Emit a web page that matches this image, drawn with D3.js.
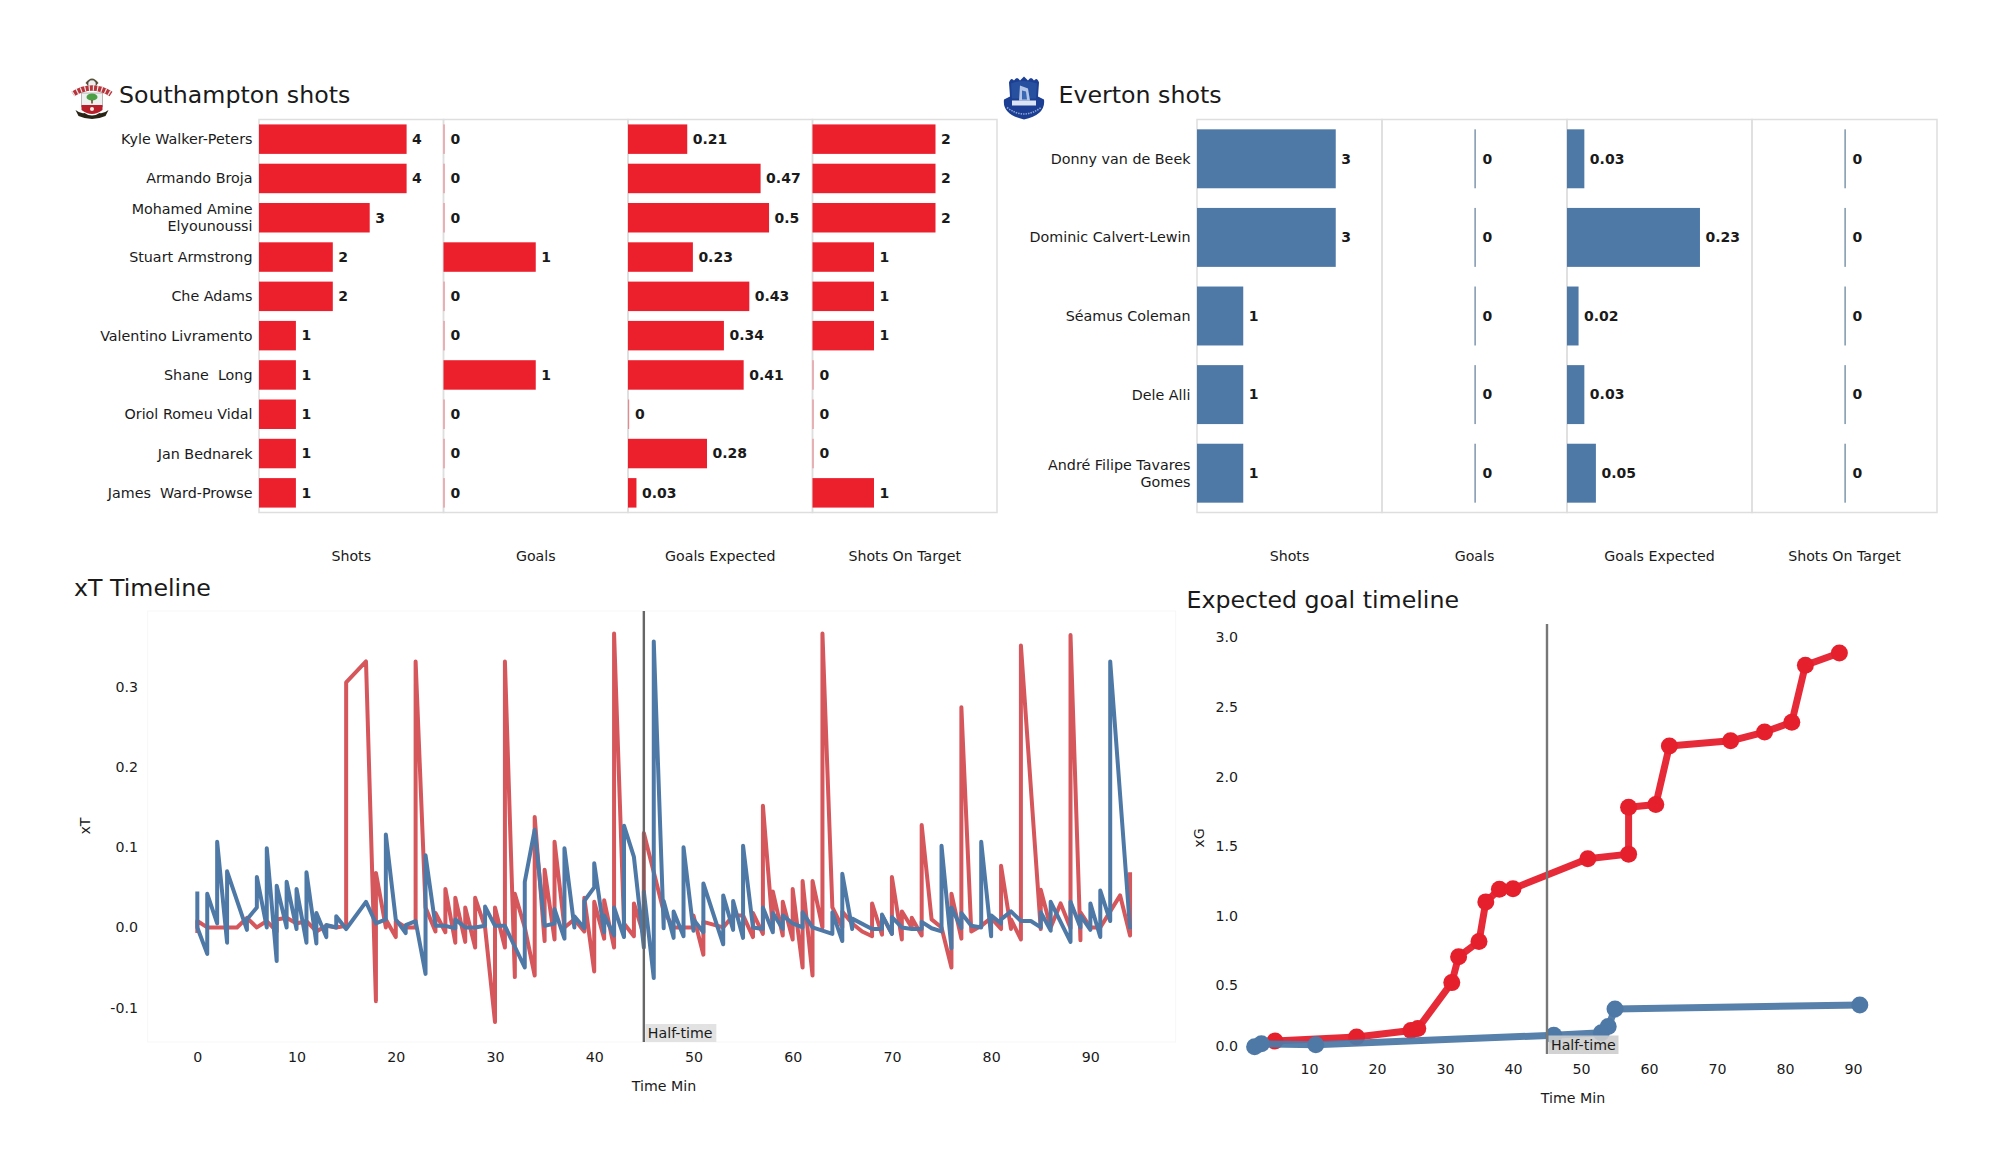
<!DOCTYPE html>
<html>
<head>
<meta charset="utf-8">
<script src="https://cdn.jsdelivr.net/npm/d3@7"></script>
<style>
  html, body { margin: 0; background: #fff; }
  text { font-family: "DejaVu Sans", sans-serif; fill: #1a1a1a; white-space: pre; }
</style>
</head>
<body>
<svg id="chart" width="2000" height="1175"></svg>
<script>
var statNames = ["Shots", "Goals", "Goals Expected", "Shots On Target"];

var sotonPlayers = ["Kyle Walker-Peters", "Armando Broja", "Mohamed Amine Elyounoussi", "Stuart Armstrong", "Che Adams",
    "Valentino Livramento", "Shane  Long", "Oriol Romeu Vidal", "Jan Bednarek", "James  Ward-Prowse"];
var sotonShots = [4, 4, 3, 2, 2, 1, 1, 1, 1, 1];
var sotonGoals = [0, 0, 0, 1, 0, 0, 1, 0, 0, 0];
var sotonXg = [0.21, 0.47, 0.5, 0.23, 0.43, 0.34, 0.41, 0, 0.28, 0.03];
var sotonOnTarget = [2, 2, 2, 1, 1, 1, 0, 0, 0, 1];
var sotonMax = [5, 2, 0.654, 3];

var evertonPlayers = ["Donny van de Beek", "Dominic Calvert-Lewin", "Séamus Coleman", "Dele Alli", "André Filipe Tavares Gomes"];
var evertonShots = [3, 3, 1, 1, 1];
var evertonGoals = [0, 0, 0, 0, 0];
var evertonXg = [0.03, 0.23, 0.02, 0.03, 0.05];
var evertonOnTarget = [0, 0, 0, 0, 0];

// xT per event, several events can share a minute
var xtSotonMin = [0, 0, 1, 2, 3, 4, 5, 6, 7, 8,
    8, 9, 10, 11, 12, 13, 14, 15, 15, 17,
    18, 18, 19, 19, 20, 20, 21, 22, 22, 23,
    24, 24, 25, 25, 26, 26, 27, 27, 28, 28,
    29, 30, 30, 31, 31, 32, 32, 33, 34, 34,
    35, 35, 36, 36, 37, 38, 39, 39, 40, 40,
    41, 41, 42, 42, 43, 44, 44, 45, 45, 47,
    48, 49, 50, 50, 51, 51, 53, 54, 55, 56,
    56, 57, 57, 58, 58, 59, 59, 60, 60, 61,
    61, 62, 62, 63, 63, 64, 65, 65, 66, 67,
    68, 68, 69, 69, 70, 70, 71, 71, 72, 72,
    73, 73, 74, 75, 76, 76, 77, 77, 78, 79,
    80, 81, 81, 82, 82, 83, 83, 85, 85, 86,
    87, 88, 88, 89, 89, 90, 91, 92, 93, 94,
    94];
var xtSotonVal = [-0.007, 0.008, 0, 0, 0, 0, 0.012, 0, 0.008, -0.005,
    0.01, 0.012, 0.005, 0.008, -0.005, 0.002, 0, 0.002, 0.306, 0.332,
    -0.092, 0.068, 0, 0.01, -0.012, 0.008, 0, 0, 0.332, 0.025,
    -0.005, 0.018, -0.006, 0.048, -0.019, 0.037, -0.018, 0.025, -0.025, 0.037,
    0, -0.118, 0.025, -0.025, 0.332, -0.062, 0.042, 0, -0.06, 0.138,
    -0.017, 0.072, -0.015, 0.107, 0, 0.01, -0.005, 0.037, -0.055, 0.032,
    -0.014, 0.034, -0.025, 0.367, 0.005, -0.011, 0.03, -0.01, 0.118, 0.02,
    0, 0, 0, 0.015, -0.034, 0.007, 0, 0.015, 0.015, -0.012,
    0.018, -0.008, 0.152, -0.002, 0.045, -0.01, 0.032, -0.015, 0.048, -0.05,
    0.058, -0.06, 0.058, 0, 0.367, 0.025, 0, 0.02, 0.005, -0.005,
    -0.011, 0.03, -0.009, 0.015, -0.008, 0.063, -0.015, 0.02, 0, 0.012,
    -0.01, 0.128, 0.01, 0, -0.05, 0.042, -0.014, 0.275, -0.005, 0.002,
    0.012, -0.002, 0.077, -0.002, 0.01, -0.015, 0.352, -0.002, 0.047, 0,
    0.03, -0.001, 0.365, -0.016, 0.019, 0, 0, 0.02, 0.04, -0.01,
    0.069];

var xtEvertonMin = [0, 0, 1, 1, 2, 2, 3, 3, 5, 5, 6, 6, 7, 7, 8, 8, 9, 9, 10, 10, 11, 11, 12, 12, 13, 13, 14, 14, 15, 17, 18, 19, 19, 20, 21, 21, 22, 23, 23,
    24, 25, 26, 26, 27, 28, 29, 29, 30, 31, 33, 33, 34, 35, 36, 36, 37, 37, 38, 38, 39, 39, 40, 40, 41, 41, 42, 42, 43, 43, 44, 45, 45, 46, 46,
    47, 47, 48, 48, 49, 49, 50, 50, 51, 51, 53, 53, 54, 54, 55, 55, 56, 57, 57, 58, 58, 59, 59, 60, 61, 61, 62, 64, 64, 65, 65, 66, 66, 68,
    69, 69, 70, 70, 71, 72, 73, 73, 74, 75, 75, 76, 76, 77, 77, 78, 79, 79, 80, 80, 81, 81, 82, 83, 84, 85, 85, 86, 86, 88, 88, 89, 89, 90, 90, 91, 91, 92, 92, 94];
var xtEvertonVal = [0.045, 0, -0.033, 0.042, 0.005, 0.107, -0.019, 0.07, -0.003, 0.01, 0.025, 0.063, 0, 0.099, -0.042, 0.052, 0, 0.057, -0.002, 0.048, -0.019, 0.069, -0.02, 0.018, -0.012, 0.003, 0, 0.014, -0.002, 0.032, 0.005, 0.01, 0.116, 0.01, -0.007, 0.003, 0.008, -0.058, 0.09,
    0.002, 0.002, -0.001, 0.01, 0, 0, 0.002, 0.026, 0.002, 0.002, -0.05, 0.057, 0.122, 0.002, 0.005, 0.023, -0.014, 0.099, 0, 0.014, -0.001, 0.033, 0.05, 0.08, -0.006, 0.015, -0.01, 0.025, -0.012, 0.127, 0.088, -0.025, 0.045, -0.063, 0.357,
    -0.001, 0.033, -0.013, 0.02, -0.011, 0.1, -0.004, 0.01, -0.006, 0.055, -0.021, 0.04, -0.003, 0.033, -0.013, 0.102, 0, -0.002, 0.025, -0.006, 0.018, -0.002, 0.015, 0.005, 0, 0.019, 0, -0.008, 0.019, -0.017, 0.067, -0.002, 0.011, -0.002,
    -0.002, 0.016, -0.008, 0.013, 0, -0.002, -0.002, 0.007, -0.001, -0.005, 0.102, -0.026, 0.025, -0.001, 0.018, 0.002, 0, 0.107, -0.011, 0.015, 0.005, 0.01, 0.02, 0.008, 0.008, 0, 0.019, -0.004, 0.032, -0.018, 0.032, 0, 0.015, -0.003, 0.03, -0.012, 0.046, 0.008, 0.332, -0.002];

var xgSotonMin = [5, 17, 25, 26, 31, 32, 35, 36, 38, 40, 51, 57, 57, 61, 63, 72, 77, 81, 83, 88];
var xgSotonVal = [0.10, 0.13, 0.176, 0.19, 0.52, 0.706, 0.815, 1.1, 1.19, 1.195, 1.41, 1.443, 1.78, 1.8, 2.22, 2.257, 2.32, 2.39, 2.8, 2.888];
var xgEvertonMin = [2, 3, 11, 46, 53, 54, 55, 91];
var xgEvertonVal = [0.06, 0.08, 0.073, 0.142, 0.16, 0.204, 0.33, 0.36];

var xtXTicks = [0, 10, 20, 30, 40, 50, 60, 70, 80, 90];
var xtYTicks = [-0.1, 0, 0.1, 0.2, 0.3];
var xgXTicks = [10, 20, 30, 40, 50, 60, 70, 80, 90];
var xgYTicks = [0, 0.5, 1, 1.5, 2, 2.5, 3];

var sotonRed = "#ec1f2d", evertonBlue = "#4e79a7";
var xtRed = "#d5575c";

var svg = d3.select("#chart");

// same rule the original used for long names
function wrapName(name) {
    var lines = [], cur = "";
    name.split(" ").forEach(function (w, i) {
        if (i > 0 && (cur + " " + w).length > 21) { lines.push(cur); cur = w; }
        else cur = i == 0 ? w : cur + " " + w;
    });
    lines.push(cur);
    return lines;
}

function shotPanels(players, stats, maxes, left, panelW, top, bottom, color, zeroColor, zeroOpacity) {
    var y = d3.scaleBand().domain(players).range([top, bottom]).paddingInner(0.25).paddingOuter(0.125);
    var g = svg.append("g");

    players.forEach(function (p) {
        var lines = wrapName(p);
        var t = g.append("text")
            .attr("x", left - 6.5)
            .attr("y", y(p) + y.bandwidth() / 2 - (lines.length - 1) * 8.5)
            .attr("text-anchor", "end")
            .attr("dominant-baseline", "central")
            .style("font-size", "14.3px");
        lines.forEach(function (l, i) {
            t.append("tspan").attr("x", left - 6.5).attr("dy", i == 0 ? 0 : 17).text(l);
        });
    });

    stats.forEach(function (vals, s) {
        var x0 = left + s * panelW;
        var allZero = d3.max(vals) == 0;
        var x = d3.scaleLinear()
            .domain(allZero ? [-0.5, 0.5] : [0, maxes[s]])
            .range([x0, x0 + panelW]);

        g.append("rect")
            .attr("x", x0).attr("y", top)
            .attr("width", panelW).attr("height", bottom - top)
            .attr("fill", "none").attr("stroke", "#dedede").attr("stroke-width", 1.5);

        g.selectAll(".bar" + s)
            .data(vals)
            .enter()
            .append("rect")
            .attr("x", x(0))
            .attr("y", function (d, i) { return y(players[i]) })
            .attr("width", function (d) { return Math.max(x(d) - x(0), 1.2) })
            .attr("height", y.bandwidth())
            .attr("fill", function (d) { return d == 0 ? zeroColor : color })
            .attr("fill-opacity", function (d) { return d == 0 ? zeroOpacity : 1 });

        g.selectAll(".val" + s)
            .data(vals)
            .enter()
            .append("text")
            .attr("x", function (d) { return x(d) + (allZero ? 8 : d == 0 ? 7 : 5.5) })
            .attr("y", function (d, i) { return y(players[i]) + y.bandwidth() / 2 - 0.2 })
            .attr("dominant-baseline", "central")
            .style("font-size", "14px")
            .style("font-weight", "bold")
            .text(function (d) { return d });

        g.append("text")
            .attr("x", x0 + panelW / 2)
            .attr("y", bottom + 43)
            .attr("text-anchor", "middle")
            .attr("dominant-baseline", "central")
            .style("font-size", "14.2px")
            .text(statNames[s]);
    });
}

shotPanels(sotonPlayers, [sotonShots, sotonGoals, sotonXg, sotonOnTarget], sotonMax, 259, 184.5, 119.5, 512.5, sotonRed, sotonRed, 0.45);
shotPanels(evertonPlayers, [evertonShots, evertonGoals, evertonXg, evertonOnTarget], [4, 1, 0.32, 1], 1197, 185, 119.5, 512.5, evertonBlue, "#5f7c98", 1);

function title(txt, x, y) {
    svg.append("text").attr("x", x).attr("y", y).style("font-size", "23.7px").text(txt);
}
title("Southampton shots", 119, 102.5);
title("Everton shots", 1058.5, 102.5);
title("xT Timeline", 74, 596);
title("Expected goal timeline", 1186.5, 607.5);

// xT timeline
var xtX = d3.scaleLinear().domain([-5, 98.6]).range([147.7, 1175.7]);
var xtY = d3.scaleLinear().domain([-0.143, 0.395]).range([1042, 611]);

function axes(x, y, xTicks, yTicks, bottom, xLabelAt, yLabelAt, yName, left) {
    var ax = svg.append("g").attr("transform", "translate(0," + bottom + ")")
        .call(d3.axisBottom(x).tickValues(xTicks).tickSize(0).tickPadding(10));
    ax.select(".domain").remove();
    var ay = svg.append("g").attr("transform", "translate(" + left + ",0)")
        .call(d3.axisLeft(y).tickValues(yTicks).tickSize(0).tickPadding(0).tickFormat(function (d) { return d.toFixed(1) }));
    ay.select(".domain").remove();
    svg.selectAll(".tick text").style("font-size", "14.2px").style("font-family", '"DejaVu Sans", sans-serif').attr("fill", "#1a1a1a");
    svg.append("text").attr("x", xLabelAt[0]).attr("y", xLabelAt[1])
        .attr("text-anchor", "middle").attr("dominant-baseline", "central")
        .style("font-size", "14.2px").text("Time Min");
    svg.append("text")
        .attr("transform", "translate(" + yLabelAt[0] + "," + yLabelAt[1] + ") rotate(-90)")
        .attr("text-anchor", "middle").attr("dominant-baseline", "central")
        .style("font-size", "14.2px").text(yName);
    return ay;
}

svg.append("rect").attr("x", 147.7).attr("y", 611).attr("width", 1028).attr("height", 431)
    .attr("fill", "none").attr("stroke", "#f7f7f7").attr("stroke-width", 1);
axes(xtX, xtY, xtXTicks, xtYTicks, 1042, [664, 1086], [85, 826], "xT", 138);

function seriesLine(mins, vals, x, y, color, width, opacity) {
    var line = d3.line()
        .x(function (d) { return x(d) })
        .y(function (d, i) { return y(vals[i]) });
    svg.append("path")
        .datum(mins)
        .attr("d", line)
        .attr("fill", "none")
        .attr("stroke", color)
        .attr("stroke-width", width)
        .attr("stroke-linejoin", "round")
        .attr("stroke-opacity", opacity);
}

seriesLine(xtSotonMin, xtSotonVal, xtX, xtY, xtRed, 4, 1);
seriesLine(xtEvertonMin, xtEvertonVal, xtX, xtY, evertonBlue, 4, 1);

function halfTime(x, top, bottom, boxW, boxH, stroke, boxFill) {
    svg.append("line").attr("x1", x(45)).attr("x2", x(45)).attr("y1", top).attr("y2", bottom)
        .attr("stroke", stroke).attr("stroke-width", 2.4);
    svg.append("rect").attr("x", x(45) + 1.5).attr("y", bottom - boxH).attr("width", boxW).attr("height", boxH)
        .attr("fill", boxFill);
    svg.append("text").attr("x", x(45) + 4).attr("y", bottom - boxH / 2)
        .attr("dominant-baseline", "central").style("font-size", "14.2px").text("Half-time");
}
halfTime(xtX, 611, 1042, 71, 18, "#666", "#e2e2e2");

// xG timeline
var xgX = d3.scaleLinear().domain([0, 90]).range([1241, 1853]);
var xgY = d3.scaleLinear().domain([0, 3]).range([1055, 637.4]);

var xgAy = axes(xgX, xgY, xgXTicks, xgYTicks, 1054, [1573, 1098], [1199, 838], "xG", 1238);
xgAy.selectAll(".tick text").filter(function (d) { return d == 0 }).attr("y", -9);

function xgSeries(mins, vals, color) {
    seriesLine(mins, vals, xgX, xgY, color, 7, 0.95);
    svg.append("g").selectAll("circle")
        .data(mins)
        .enter()
        .append("circle")
        .attr("cx", function (d) { return xgX(d) })
        .attr("cy", function (d, i) { return xgY(vals[i]) })
        .attr("r", 8.5)
        .attr("fill", color);
}
xgSeries(xgSotonMin, xgSotonVal, "#e61f2c");
xgSeries(xgEvertonMin, xgEvertonVal, evertonBlue);
halfTime(xgX, 624, 1054, 70, 18.5, "#777", "rgba(205,205,205,0.9)");

// club crests, rough hand drawing
function sotonCrest(tx, ty) {
    var g = svg.append("g").attr("transform", "translate(" + tx + "," + ty + ")");
    g.append("path").attr("d", "M13 7 Q19.5 -2 26 7 L24 9 L15 9 Z").attr("fill", "#5e5232");
    g.append("circle").attr("cx", 19.5).attr("cy", 8).attr("r", 4.2).attr("fill", "#eee").attr("stroke", "#333").attr("stroke-width", 0.8);
    // halo of the banner, striped red and white
    g.append("path").attr("d", "M0.5 18 Q19.5 6 38.5 18").attr("fill", "none").attr("stroke", "#b8343c").attr("stroke-width", 5.5);
    g.append("path").attr("d", "M0.5 18 Q19.5 6 38.5 18").attr("fill", "none").attr("stroke", "#f3e7e4").attr("stroke-width", 5.5).attr("stroke-dasharray", "1.2 3");
    // shield
    g.append("path").attr("d", "M9 17 L30 17 L30 31 L9 31 Z").attr("fill", "#eef1f0").attr("stroke", "#8a8a8a").attr("stroke-width", 0.6);
    g.append("ellipse").attr("cx", 19.5).attr("cy", 21).attr("rx", 5.5).attr("ry", 3.6).attr("fill", "#4d9f45");
    g.append("rect").attr("x", 18.7).attr("y", 24).attr("width", 1.6).attr("height", 3.5).attr("fill", "#6a4b2a");
    g.append("path").attr("d", "M9 29 L30 29 L30 34 Q19.5 42 9 34 Z").attr("fill", "#b91f2b");
    g.append("circle").attr("cx", 19.5).attr("cy", 33).attr("r", 2).attr("fill", "#f4f0ee");
    // scroll below
    g.append("path").attr("d", "M3 34 Q8 38 12 37 Q19.5 42 27 37 Q31 38 36 34 L33 40 Q19.5 46 6 40 Z").attr("fill", "#2a2416");
}
function evertonCrest(tx, ty) {
    var g = svg.append("g").attr("transform", "translate(" + tx + "," + ty + ")");
    g.append("path").attr("d", "M6 6 Q8 0 11 4 Q14 -1 17 4 L21 0 L25 4 Q28 -1 31 4 Q34 0 36 6 L35 20 L41 23 Q43 38 21 43 Q-1 38 1 23 L7 20 Z").attr("fill", "#1c3f93");
    g.append("path").attr("d", "M8 7 Q21 2 34 7 L33 22 L9 22 Z").attr("fill", "#27509f");
    g.append("path").attr("d", "M17 9 L25 12 L27 24 L16 24 Z").attr("fill", "#b4c6e8");
    g.append("path").attr("d", "M19 14 L23 15 L24 23 L19 23 Z").attr("fill", "#3a68b5");
    g.append("rect").attr("x", 9).attr("y", 24).attr("width", 24).attr("height", 5).attr("fill", "#dbe4f5");
    g.append("path").attr("d", "M4 31 Q21 44 38 31").attr("fill", "none").attr("stroke", "#8aa3d6").attr("stroke-width", 1.6).attr("stroke-dasharray", "1.5 1");
}
sotonCrest(72.5, 76);
evertonCrest(1003, 76.5);
</script>
</body>
</html>
